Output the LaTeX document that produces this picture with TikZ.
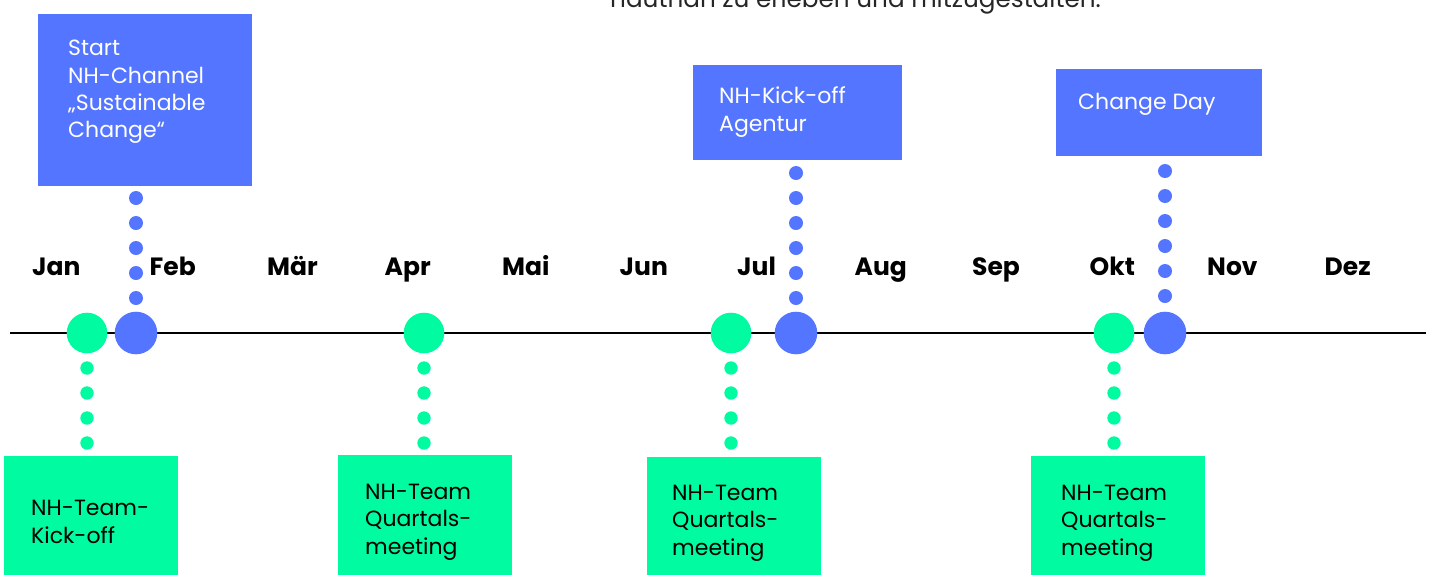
\documentclass[tikz,border=0pt]{standalone}
\usepackage{fontspec}
\setmainfont{Poppins}
\usetikzlibrary{backgrounds}
\definecolor{nhblue}{HTML}{5475FF}
\definecolor{nhgreen}{HTML}{00FBA1}
\tikzset{
  bluebox/.style={fill=nhblue,anchor=north west,inner sep=0pt},
  greenbox/.style={fill=nhgreen,anchor=north west,inner sep=0pt,minimum width=174pt,minimum height=125pt},
  boxtext/.style={anchor=base west,align=left,inner sep=0pt,font=\fontsize{22}{27.3}\selectfont},
  month/.style={anchor=base west,inner sep=0pt,font=\fontsize{25}{30}\selectfont\bfseries},
  bluedot/.style={circle,fill=nhblue,minimum size=42.6pt,inner sep=0pt},
  greendot/.style={circle,fill=nhgreen,minimum size=40.6pt,inner sep=0pt},
  bluedots/.style={nhblue,line width=14pt,line cap=round,dash pattern=on 0pt off 25pt,dash phase=15pt},
  greendots/.style={nhgreen,line width=13.4pt,line cap=round,dash pattern=on 0pt off 25pt,dash phase=15pt}
}
\begin{document}
\begin{tikzpicture}[x=1pt,y=-1pt]
  \useasboundingbox (0,0) rectangle (1433,574);
  % text above, cut off by the page
  \node[boxtext,text=black!85,font=\fontsize{24.7}{30}\selectfont] (intro) at (610,7.5) {hautnah zu erleben und mitzugestalten.};
  % months
  \foreach \m [count=\i from 0] in {Jan,Feb,Mär,Apr,Mai,Jun,Jul,Aug,Sep,Okt,Nov,Dez}
    \node[month] (m\i) at (32+117.5*\i,275) {\m};
  % timeline
  \coordinate (tl-a) at (10,333);
  \coordinate (tl-b) at (1426,333);
  \draw[line width=2pt] (tl-a) -- (tl-b);
  \node[greendot] (kickoff) at (87,333) {};
  \node[bluedot] (channel) at (136,333) {};
  \node[greendot] (q2) at (424,333) {};
  \node[greendot] (q3) at (731,333) {};
  \node[bluedot] (agentur) at (796,333) {};
  \node[greendot] (q4) at (1114,333) {};
  \node[bluedot] (changeday) at (1165,333) {};
  % boxes above (text placed at its last baseline)
  \node[bluebox,minimum width=214pt,minimum height=172pt] (b-channel) at (38,14) {};
  \node[boxtext,text=white] (t-channel) at (68,137.8) {Start\\NH-Channel\\„Sustainable\\Change“};
  \node[bluebox,minimum width=209pt,minimum height=95pt] (b-agentur) at (693,65) {};
  \node[boxtext,text=white] (t-agentur) at (719,131) {NH-Kick-off\\Agentur};
  \node[bluebox,minimum width=206pt,minimum height=87pt] (b-changeday) at (1056,69) {};
  \node[boxtext,text=white] (t-changeday) at (1078,109) {Change Day};
  % boxes below
  \node[greenbox] (b-kickoff) at (4,456) {};
  \node[boxtext] (t-kickoff) at (31,543) {NH-Team-\\Kick-off};
  \node[greenbox] (b-q2) at (338,455) {};
  \node[boxtext] (t-q2) at (365,554) {NH-Team\\Quartals-\\meeting};
  \node[greenbox] (b-q3) at (647,457) {};
  \node[boxtext] (t-q3) at (672,555) {NH-Team\\Quartals-\\meeting};
  \node[greenbox] (b-q4) at (1031,456) {};
  \node[boxtext] (t-q4) at (1061,555) {NH-Team\\Quartals-\\meeting};
  % dotted connectors
  \begin{scope}[on background layer]
    \draw[bluedots] (channel.center) -- (b-channel.south -| channel);
    \draw[bluedots] (agentur.center) -- (b-agentur.south -| agentur);
    \draw[bluedots,dash phase=13pt] (changeday.center) -- (b-changeday.south -| changeday);
    \draw[greendots] (kickoff.center) -- (b-kickoff.north -| kickoff);
    \draw[greendots] (q2.center) -- (b-q2.north -| q2);
    \draw[greendots] (q3.center) -- (b-q3.north -| q3);
    \draw[greendots] (q4.center) -- (b-q4.north -| q4);
  \end{scope}
\end{tikzpicture}
\end{document}
